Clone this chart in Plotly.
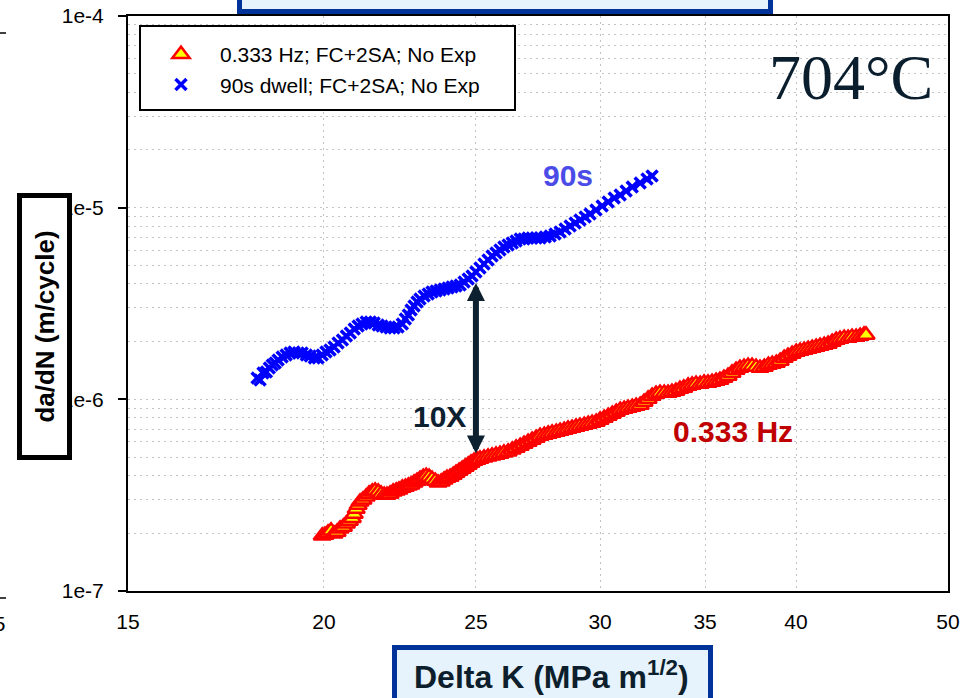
import math
import plotly.graph_objects as go

# ---- data ----
hz_dk = [19.95, 20.03, 20.12, 20.21, 20.30, 20.39, 20.48, 20.58, 20.67, 20.76,
         20.85, 20.91, 20.97, 21.03, 21.09, 21.18, 21.28, 21.37, 21.47, 21.56,
         21.66, 21.75, 21.85, 21.94, 22.04, 22.14, 22.24, 22.33, 22.44, 22.54,
         22.64, 22.73, 22.83, 22.93, 23.03, 23.14, 23.24, 23.34, 23.44, 23.55,
         23.65, 23.76, 23.86, 23.96, 24.07, 24.18, 24.28, 24.39, 24.50, 24.61,
         24.72, 24.82, 24.93, 25.04, 25.15, 25.30, 25.45, 25.60, 25.75, 25.90,
         26.05, 26.21, 26.37, 26.52, 26.68, 26.83, 26.99, 27.15, 27.31, 27.47,
         27.64, 27.80, 27.96, 28.13, 28.29, 28.46, 28.62, 28.79, 28.96, 29.13,
         29.31, 29.48, 29.65, 29.83, 30.00, 30.18, 30.36, 30.54, 30.72, 30.90,
         31.08, 31.26, 31.45, 31.63, 31.82, 32.00, 32.19, 32.38, 32.57, 32.76,
         32.96, 33.15, 33.34, 33.53, 33.73, 33.92, 34.14, 34.34, 34.54, 34.75,
         34.95, 35.15, 35.36, 35.57, 35.77, 35.98, 36.20, 36.41, 36.63, 36.84,
         37.06, 37.28, 37.50, 37.72, 37.94, 38.18, 38.41, 38.63, 38.86, 39.08,
         39.31, 39.53, 39.77, 40.01, 40.24, 40.48, 40.72, 40.96, 41.20, 41.44,
         41.69, 41.93, 42.18, 42.43, 42.67, 42.93, 43.18, 43.43, 43.69, 43.95,
         44.20, 44.33]
hz_rate_e6 = [0.194, 0.196, 0.201, 0.206, 0.199, 0.203, 0.211, 0.216, 0.224, 0.232,
              0.240, 0.252, 0.268, 0.281, 0.292, 0.299, 0.310, 0.321, 0.329, 0.333,
              0.329, 0.321, 0.317, 0.317, 0.321, 0.329, 0.333, 0.337, 0.345, 0.349,
              0.354, 0.358, 0.367, 0.375, 0.384, 0.393, 0.398, 0.393, 0.384, 0.375,
              0.367, 0.371, 0.380, 0.389, 0.393, 0.403, 0.413, 0.423, 0.433, 0.444,
              0.455, 0.466, 0.477, 0.483, 0.489, 0.495, 0.501, 0.507, 0.513, 0.519,
              0.526, 0.532, 0.545, 0.558, 0.571, 0.585, 0.599, 0.614, 0.629, 0.644,
              0.652, 0.660, 0.668, 0.676, 0.684, 0.692, 0.701, 0.709, 0.718, 0.726,
              0.735, 0.744, 0.753, 0.762, 0.781, 0.799, 0.819, 0.838, 0.859, 0.880,
              0.890, 0.901, 0.912, 0.923, 0.935, 0.969, 1.005, 1.041, 1.067, 1.080,
              1.080, 1.080, 1.093, 1.106, 1.133, 1.147, 1.175, 1.189, 1.203, 1.203,
              1.218, 1.218, 1.232, 1.247, 1.262, 1.293, 1.324, 1.374, 1.423, 1.458,
              1.475, 1.493, 1.493, 1.475, 1.458, 1.475, 1.511, 1.529, 1.548, 1.585,
              1.644, 1.684, 1.724, 1.767, 1.788, 1.810, 1.832, 1.854, 1.876, 1.899,
              1.922, 1.945, 1.992, 2.041, 2.066, 2.091, 2.091, 2.116, 2.116, 2.142,
              2.168, 2.168]

dw_dk = [18.13, 18.21, 18.29, 18.38, 18.46, 18.54, 18.62, 18.70, 18.81, 18.92,
         19.03, 19.14, 19.26, 19.37, 19.49, 19.60, 19.72, 19.83, 19.95, 20.06,
         20.18, 20.30, 20.42, 20.55, 20.67, 20.79, 20.91, 21.03, 21.15, 21.28,
         21.41, 21.53, 21.66, 21.78, 21.91, 22.04, 22.17, 22.30, 22.44, 22.54,
         22.64, 22.73, 22.83, 22.93, 23.03, 23.17, 23.31, 23.44, 23.58, 23.72,
         23.86, 24.00, 24.14, 24.28, 24.43, 24.57, 24.72, 24.86, 25.00, 25.15,
         25.30, 25.45, 25.60, 25.75, 25.90, 26.05, 26.21, 26.37, 26.52, 26.68,
         26.83, 26.99, 27.15, 27.31, 27.47, 27.68, 27.88, 28.08, 28.29, 28.50,
         28.71, 28.92, 29.13, 29.35, 29.56, 29.82, 30.09, 30.36, 30.63, 30.90,
         31.17, 31.45, 31.82, 32.14, 32.38]
dw_rate_e6 = [1.293, 1.262, 1.374, 1.390, 1.457, 1.511, 1.548, 1.605, 1.663, 1.704,
              1.745, 1.767, 1.745, 1.745, 1.704, 1.684, 1.644, 1.644, 1.704, 1.767,
              1.810, 1.876, 1.968, 2.041, 2.142, 2.221, 2.329, 2.414, 2.473, 2.534,
              2.534, 2.504, 2.444, 2.414, 2.385, 2.357, 2.357, 2.385, 2.473, 2.627,
              2.756, 2.927, 3.071, 3.222, 3.341, 3.462, 3.546, 3.633, 3.677, 3.721,
              3.766, 3.812, 3.858, 3.905, 3.952, 4.097, 4.247, 4.402, 4.620, 4.845,
              5.085, 5.336, 5.598, 5.803, 6.016, 6.236, 6.388, 6.543, 6.702, 6.866,
              6.866, 6.949, 6.949, 6.949, 6.949, 7.033, 7.118, 7.291, 7.469, 7.743,
              8.027, 8.321, 8.627, 8.943, 9.272, 9.728, 10.21, 10.71, 11.24, 11.65,
              12.22, 12.82, 13.46, 14.12, 14.63]

hz_rate = [v * 1e-6 for v in hz_rate_e6]
dw_rate = [v * 1e-6 for v in dw_rate_e6]

series_names = ["0.333 Hz; FC+2SA; No Exp", "90s dwell; FC+2SA; No Exp"]
x_tickvals = [15, 20, 25, 30, 35, 40, 50]
y_tickvals = [1e-7, 1e-6, 1e-5, 1e-4]
y_ticktext = ["1e-7", "1e-6", "1e-5", "1e-4"]

# ---- layout helpers ----
W, H = 965, 698
ML, MR, MT, MB = 128, 17, 16, 107
PW, PH = W - ML - MR, H - MT - MB


def fx(p):
    return (p - ML) / PW


def fy(p):
    return (H - MB - p) / PH


FONT = "Liberation Sans, Arial, sans-serif"
NAVY = "#0d2030"
GRID = "#c4c4c4"
DASH = "2px,4px"

fig = go.Figure()
fig.add_trace(go.Scatter(
    x=hz_dk, y=hz_rate, mode="markers", name=series_names[0],
    marker=dict(symbol="triangle-up", size=15, color="#ffff00",
                line=dict(color="#ff0000", width=2.5))))
fig.add_trace(go.Scatter(
    x=dw_dk, y=dw_rate, mode="markers", name=series_names[1],
    marker=dict(symbol="x-thin", size=11, color="#0000ff",
                line=dict(color="#0000ff", width=3.5))))

fig.update_xaxes(
    type="log", range=[math.log10(15), math.log10(50)],
    tickmode="array", tickvals=x_tickvals, ticktext=[str(v) for v in x_tickvals],
    ticks="", showgrid=True, gridcolor=GRID, griddash=DASH, gridwidth=1,
    showline=True, linecolor="black", linewidth=2, mirror=True,
    tickfont=dict(family=FONT, size=21, color="black"),
    ticklabelstandoff=11, zeroline=False)
fig.update_yaxes(
    type="log", range=[-7, -4],
    tickmode="array", tickvals=y_tickvals, ticktext=y_ticktext,
    ticks="outside", ticklen=8, tickwidth=1.5, tickcolor="black",
    showgrid=True, gridcolor=GRID, griddash=DASH, gridwidth=1,
    minor=dict(dtick="D1", showgrid=True, gridcolor=GRID, griddash=DASH, gridwidth=1, ticks=""),
    showline=True, linecolor="black", linewidth=2, mirror=True,
    tickfont=dict(family=FONT, size=21, color="black"),
    ticklabelstandoff=10, zeroline=False)

shapes = [
    # legend frame
    dict(type="rect", xref="paper", yref="paper", layer="above",
         x0=fx(140), x1=fx(515), y0=fy(110), y1=fy(26),
         line=dict(color="black", width=2), fillcolor="white"),
    # x-axis title frame
    dict(type="rect", xref="paper", yref="paper", layer="above",
         x0=fx(394.5), x1=fx(710.5), y0=fy(712), y1=fy(647.5),
         line=dict(color="#003399", width=5), fillcolor="#e6f2fc"),
    # top title frame (cropped)
    dict(type="rect", xref="paper", yref="paper", layer="above",
         x0=fx(239.5), x1=fx(770.5), y0=fy(11.5), y1=fy(-60),
         line=dict(color="#003399", width=5), fillcolor="#e6f2fc"),
    # remnants of neighbouring chart on the left
    dict(type="line", xref="paper", yref="paper", layer="above",
         x0=fx(0), x1=fx(6), y0=fy(33), y1=fy(33), line=dict(color="black", width=1.5)),
    dict(type="line", xref="paper", yref="paper", layer="above",
         x0=fx(0), x1=fx(6), y0=fy(598), y1=fy(598), line=dict(color="black", width=1.5)),
]

annotations = [
    dict(text="704°C", xref="paper", yref="paper", x=fx(851), y=fy(77),
         xanchor="center", yanchor="middle", showarrow=False,
         font=dict(family="Liberation Serif, Times New Roman, serif", size=64, color="#0a1e2d")),
    dict(text="<b>90s</b>", xref="paper", yref="paper", x=fx(568), y=fy(175),
         xanchor="center", yanchor="middle", showarrow=False,
         font=dict(family=FONT, size=30, color="#4b4be8")),
    dict(text="<b>0.333 Hz</b>", xref="paper", yref="paper", x=fx(733), y=fy(431),
         xanchor="center", yanchor="middle", showarrow=False,
         font=dict(family=FONT, size=30, color="#c00000")),
    dict(text="<b>10X</b>", xref="paper", yref="paper", x=fx(439), y=fy(416),
         xanchor="center", yanchor="middle", showarrow=False,
         font=dict(family=FONT, size=30, color=NAVY)),
    dict(text="", x=math.log10(25), y=math.log10(4.05e-6), xref="x", yref="y",
         ax=0, ay=172, axref="pixel", ayref="pixel", showarrow=True,
         arrowhead=2, startarrowhead=2, arrowside="end+start",
         arrowsize=0.6, startarrowsize=0.6, arrowwidth=6, arrowcolor=NAVY, standoff=0, startstandoff=0),
    dict(text="<b>da/dN (m/cycle)</b>", xref="paper", yref="paper", x=fx(44.5), y=fy(326.5),
         xanchor="center", yanchor="middle", showarrow=False, textangle=-90,
         width=257, height=45, borderpad=0, borderwidth=5, bordercolor="black", bgcolor="white",
         font=dict(family=FONT, size=26, color="black")),
    dict(text="<b>Delta K (MPa m<sup>1/2</sup>)</b>", xref="paper", yref="paper", x=fx(551), y=fy(675),
         xanchor="center", yanchor="middle", showarrow=False,
         font=dict(family=FONT, size=32, color="#0d1f2d")),
    dict(text="15", xref="paper", yref="paper", x=fx(7), y=fy(623),
         xanchor="right", yanchor="middle", showarrow=False,
         font=dict(family=FONT, size=21, color="black")),
]

fig.update_layout(
    width=W, height=H, margin=dict(l=ML, r=MR, t=MT, b=MB, autoexpand=False),
    paper_bgcolor="white", plot_bgcolor="white",
    shapes=shapes, annotations=annotations,
    showlegend=True,
    legend=dict(x=fx(142), y=fy(34), xanchor="left", yanchor="top",
                bgcolor="rgba(0,0,0,0)", borderwidth=0, itemwidth=68,
                font=dict(family=FONT, size=21, color="black")),
)

fig.write_html("out.html")
